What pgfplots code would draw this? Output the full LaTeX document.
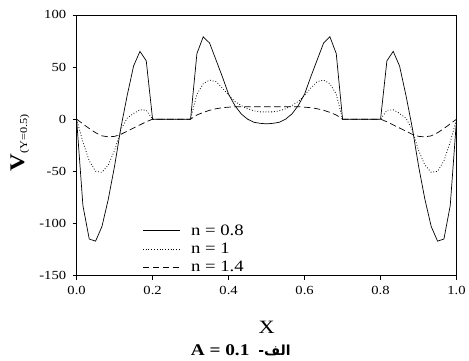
\documentclass[border=0pt]{standalone}
\usepackage{fontspec}
\setmainfont[FakeStretch=1.18]{Liberation Serif}
\newfontfamily\arabicfont[Script=Arabic]{DejaVu Sans}
\TeXXeTstate=1
\usepackage{pgfplots}
\pgfplotsset{compat=1.18}

\begin{document}
\begin{tikzpicture}
\begin{axis}[
 width=382bp, height=262bp, scale only axis,
 xmin=0, xmax=1, ymin=-150, ymax=100,
 xtick={0,0.2,0.4,0.6,0.8,1}, xticklabels={0.0,0.2,0.4,0.6,0.8,1.0},
 ytick={-150,-100,-50,0,50,100}, yticklabels={-150,-100,-50,0,50,100},
 tick pos=left, tick align=outside, major tick length=4bp,
 tick style={black, line width=0.6bp},
 axis line style={line width=0.7bp},
 ticklabel style={font=\fontsize{12.5}{14}\selectfont},
 xticklabel style={yshift=-3bp},
 yticklabel style={xshift=-3bp},
 xlabel={X},
 every axis x label/.style={at={(axis description cs:0.5,-0.197)}, anchor=center, font=\fontsize{19}{22}\selectfont},
 ylabel={{\fontsize{21}{22}\selectfont\bfseries V}\raisebox{-3bp}{\fontsize{10.5}{12}\selectfont (Y=0.5)}},
 every axis y label/.style={at={(axis description cs:-0.149,0.51)}, anchor=center, rotate=90},
 legend style={draw=none, fill=none, at={(axis description cs:0.173,0.204)}, anchor=north west,
   font=\fontsize{16}{19}\selectfont, row sep=2.5bp, inner sep=0pt},
 legend cell align=left,
 legend image code/.code={\draw[#1] (0bp,0bp) -- (37bp,0bp);},
]
\addplot[black, line width=0.7bp] coordinates {
(0,0) (0.0167,-83) (0.0333,-115) (0.05,-117) (0.0667,-103) (0.0833,-77) (0.1,-45) (0.1167,-8) (0.1333,23) (0.15,51) (0.1667,65) (0.1833,56) (0.2,0) (0.3,0) (0.3167,63) (0.3333,79) (0.35,73) (0.3667,57) (0.3833,41) (0.4,24) (0.4167,13) (0.4333,5) (0.45,0) (0.4667,-3) (0.4833,-4) (0.5,-4.5) (0.5167,-4) (0.5333,-3) (0.55,0) (0.5667,5) (0.5833,13) (0.6,24) (0.6167,41) (0.6333,57) (0.65,73) (0.6667,79) (0.6833,63) (0.7,0) (0.8,0) (0.8167,56) (0.8333,65) (0.85,51) (0.8667,23) (0.8833,-8) (0.9,-45) (0.9167,-77) (0.9333,-103) (0.95,-117) (0.9667,-115) (0.9833,-83) (1,0)
};
\addlegendentry{\hspace{9bp}n = 0.8}
\addplot[black, line width=0.8bp, dotted] coordinates {
(0,0) (0.0167,-22) (0.0333,-40) (0.05,-50) (0.0667,-51) (0.0833,-44) (0.1,-30) (0.1167,-10) (0.1333,1) (0.15,5.5) (0.1667,9) (0.1833,8.5) (0.2,0) (0.3,0) (0.3167,24) (0.3333,34) (0.35,37.5) (0.3667,36) (0.3833,30) (0.4,23) (0.4167,17) (0.4333,13) (0.45,10) (0.4667,8) (0.4833,7) (0.5,7) (0.5167,7) (0.5333,8) (0.55,10) (0.5667,13) (0.5833,17) (0.6,23) (0.6167,30) (0.6333,36) (0.65,37.5) (0.6667,34) (0.6833,24) (0.7,0) (0.8,0) (0.8167,8.5) (0.8333,9) (0.85,5.5) (0.8667,1) (0.8833,-10) (0.9,-30) (0.9167,-44) (0.9333,-51) (0.95,-50) (0.9667,-40) (0.9833,-22) (1,0)
};
\addlegendentry{\hspace{9bp}n = 1}
\addplot[black, line width=0.7bp, dash pattern=on 6.5bp off 3.5bp] coordinates {
(0,0) (0.0167,-4.5) (0.0333,-9) (0.05,-13) (0.0667,-16) (0.0833,-17) (0.1,-16.5) (0.1167,-14.5) (0.1333,-11.5) (0.15,-8.5) (0.1667,-5.5) (0.1833,-2.5) (0.2,0) (0.3,0) (0.3167,4) (0.3333,6.5) (0.35,8.5) (0.3667,10) (0.3833,11) (0.4,11.5) (0.4167,12) (0.4333,12) (0.45,12) (0.4667,12) (0.4833,12) (0.5,12) (0.5167,12) (0.5333,12) (0.55,12) (0.5667,12) (0.5833,12) (0.6,11.5) (0.6167,11) (0.6333,10) (0.65,8.5) (0.6667,6.5) (0.6833,4) (0.7,0) (0.8,0) (0.8167,-2.5) (0.8333,-5.5) (0.85,-8.5) (0.8667,-11.5) (0.8833,-14.5) (0.9,-16.5) (0.9167,-17) (0.9333,-16) (0.95,-13) (0.9667,-9) (0.9833,-4.5) (1,0)
};
\addlegendentry{\hspace{9bp}n = 1.4}
\end{axis}
\path (current axis.south west) ++(165bp,-75bp) node[font=\fontsize{16.5}{18}\selectfont\bfseries] {A = 0.1\hspace{9bp}{\arabicfont\bfseries\fontsize{14}{16}\selectfont\beginR الف-\endR}};
\path (current axis.south west) ++(-77bp,-85bp) rectangle ([shift={(10bp,15bp)}]current axis.north east);
\end{tikzpicture}
\end{document}
